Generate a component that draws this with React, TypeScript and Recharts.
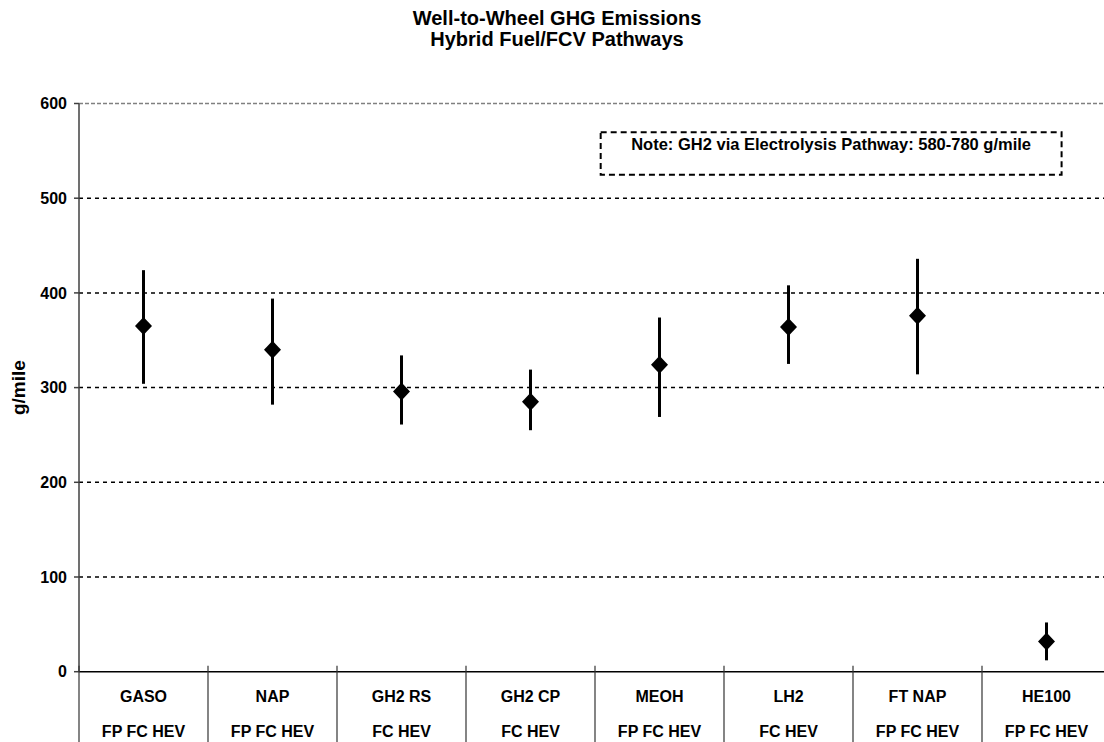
import React from "react"
import {
    ComposedChart,
    Scatter,
    ErrorBar,
    XAxis,
    YAxis,
    CartesianGrid,
    ReferenceLine,
    ReferenceArea,
} from "recharts"

const categories = ["GASO", "NAP", "GH2 RS", "GH2 CP", "MEOH", "LH2", "FT NAP", "HE100"]
const configs = ["FP FC HEV", "FP FC HEV", "FC HEV", "FC HEV", "FP FC HEV", "FC HEV", "FP FC HEV", "FP FC HEV"]
const midValues = [365, 340, 296, 285, 324, 364, 376, 32]
const lowValues = [304, 282, 261, 255, 269, 325, 314, 12]
const highValues = [424, 394, 334, 319, 374, 408, 436, 52]
const yTicks = [0, 100, 200, 300, 400, 500, 600]
const gridValues = [100, 200, 300, 400, 500]

const titleLines = ["Well-to-Wheel GHG Emissions", "Hybrid Fuel/FCV Pathways"]
const noteText = "Note: GH2 via Electrolysis Pathway: 580-780 g/mile"
// note box corners in chart units (category slots / g/mile)
const noteBox = { x1: 4.044, x2: 7.617, y1: 524.8, y2: 569.6 }

const FONT = "'Liberation Sans', Arial, sans-serif"

// each category sits in the middle of its slot
const data = categories.map((name, i) => ({
    pos: i + 0.5,
    name,
    mid: midValues[i],
    err: [midValues[i] - lowValues[i], highValues[i] - midValues[i]],
}))

const xTicks = categories.flatMap((_, i) => [i, i + 0.5]).concat(categories.length)

function CategoryTick(props: any) {
    const { x, y, payload } = props
    const v = payload.value
    if (Number.isInteger(v)) {
        return <line x1={x} x2={x} y1={y - 6} y2={y + 100} stroke="#333" strokeWidth={1.2} />
    }
    const i = Math.floor(v)
    return (
        <g>
            <text x={x} y={y + 25} textAnchor="middle" dominantBaseline="central"
                fontFamily={FONT} fontSize={16} fontWeight="bold" fill="#000">
                {categories[i]}
            </text>
            <text x={x} y={y + 60} textAnchor="middle" dominantBaseline="central"
                fontFamily={FONT} fontSize={16} fontWeight="bold" fill="#000">
                {configs[i]}
            </text>
        </g>
    )
}

function Diamond(props: any) {
    const { cx, cy } = props
    return (
        <polygon
            points={`${cx},${cy - 9} ${cx + 8.5},${cy} ${cx},${cy + 9} ${cx - 8.5},${cy}`}
            fill="#000"
        />
    )
}

function YLabel(props: any) {
    const vb = props.viewBox
    const x = vb.x - 1
    const y = vb.y + vb.height / 2
    return (
        <text x={x} y={y} transform={`rotate(-90, ${x}, ${y})`} textAnchor="middle"
            dominantBaseline="central" fontFamily={FONT} fontSize={19} fontWeight="bold" fill="#000">
            g/mile
        </text>
    )
}

export default function App() {
    return (
        <div style={{ position: "absolute", left: 0, top: 0, width: 1104, height: 742, overflow: "hidden", background: "#fff" }}>
            <ComposedChart
                width={1130}
                height={760}
                data={data}
                margin={{ top: 103.5, right: 19, bottom: 18.3, left: 20 }}
            >
                <CartesianGrid
                    vertical={false}
                    horizontalValues={gridValues}
                    stroke="#000"
                    strokeDasharray="4 4"
                    strokeWidth={1.5}
                />
                <ReferenceLine y={600} stroke="#808080" strokeDasharray="4 2" strokeWidth={1.5} />
                <XAxis
                    dataKey="pos"
                    type="number"
                    domain={[0, categories.length]}
                    ticks={xTicks}
                    interval={0}
                    allowDecimals
                    height={70}
                    tickSize={0}
                    tickMargin={0}
                    tickLine={false}
                    axisLine={{ stroke: "#000", strokeWidth: 1.5 }}
                    tick={<CategoryTick />}
                />
                <YAxis
                    type="number"
                    domain={[0, 600]}
                    ticks={yTicks}
                    interval={0}
                    width={59}
                    tickSize={5}
                    tickMargin={7}
                    axisLine={{ stroke: "#404040", strokeWidth: 1.5 }}
                    tickLine={{ stroke: "#404040", strokeWidth: 1.5 }}
                    tick={{ fill: "#000", fontSize: 16, fontWeight: "bold", fontFamily: FONT }}
                    label={<YLabel />}
                />
                <ReferenceArea
                    x1={noteBox.x1}
                    x2={noteBox.x2}
                    y1={noteBox.y1}
                    y2={noteBox.y2}
                    fill="none"
                    fillOpacity={0}
                    stroke="#000"
                    strokeWidth={2}
                    strokeDasharray="6 4"
                    ifOverflow="visible"
                    label={{
                        value: noteText,
                        position: "insideTop",
                        offset: 6,
                        fill: "#000",
                        fontSize: 16.5,
                        fontWeight: "bold",
                        fontFamily: FONT,
                    }}
                />
                <Scatter dataKey="mid" shape={<Diamond />} isAnimationActive={false}>
                    <ErrorBar dataKey="err" direction="y" width={0} strokeWidth={3} stroke="#000" />
                </Scatter>
            </ComposedChart>
            <div
                style={{
                    position: "absolute",
                    left: 0,
                    top: 8,
                    width: 1114,
                    textAlign: "center",
                    fontFamily: FONT,
                    fontWeight: "bold",
                    fontSize: 20,
                    lineHeight: "21px",
                    color: "#000",
                }}
            >
                {titleLines.map((t) => (
                    <div key={t}>{t}</div>
                ))}
            </div>
        </div>
    )
}
